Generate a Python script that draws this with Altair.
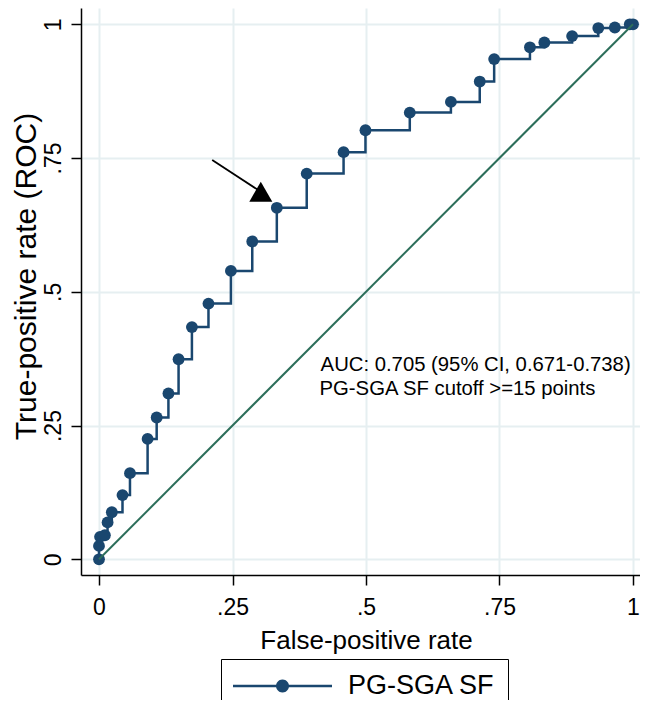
import math
import altair as alt
import pandas as pd

# ---------------- data ----------------
FPR = [0.0, 0.0, 0.002, 0.011, 0.016, 0.024, 0.044, 0.058, 0.091, 0.108,
       0.130, 0.149, 0.174, 0.205, 0.247, 0.287, 0.333, 0.389, 0.458, 0.499,
       0.582, 0.659, 0.713, 0.740, 0.807, 0.834, 0.886, 0.935, 0.966, 0.994, 1.0]
TPR = [0.0, 0.025, 0.042, 0.045, 0.069, 0.088, 0.120, 0.161, 0.225, 0.265,
       0.310, 0.374, 0.434, 0.478, 0.539, 0.594, 0.657, 0.721, 0.761, 0.802,
       0.835, 0.855, 0.893, 0.935, 0.957, 0.966, 0.978, 0.993, 0.994, 1.0, 1.0]
SERIES = "PG-SGA SF"

DIAG_X = [0.0, 1.0]
DIAG_Y = [0.0, 1.0]

ARROW_X = [0.212, 0.303]
ARROW_Y = [0.7465, 0.687]

ANNOT_TEXT = ["AUC: 0.705 (95% CI, 0.671-0.738)", "PG-SGA SF cutoff >=15 points"]
ANNOT_X = [0.415, 0.413]
ANNOT_Y = [0.3525, 0.307]

TICK_VALUES = [0, 0.25, 0.5, 0.75, 1]
TICK_LABELS = ["0", ".25", ".5", ".75", "1"]

X_TITLE = "False-positive rate"
Y_TITLE = "True-positive rate (ROC)"

# ---------------- styling ----------------
NAVY = "#1A476F"
GREEN = "#2C6E5A"
GRID = "#E6EFF1"
FONT = "Liberation Sans"

W, H = 559, 567
XDOM = [-0.03371, 1.01311]
YDOM = [-0.02935, 1.03047]

label_expr = "".join(
    f"datum.value == {v} ? '{l}' : " for v, l in zip(TICK_VALUES, TICK_LABELS)
) + "''"

roc = pd.DataFrame({"x": FPR, "y": TPR, "idx": list(range(len(FPR))),
                    "series": [SERIES] * len(FPR)})
diag = pd.DataFrame({"x": DIAG_X, "y": DIAG_Y})
arrow_line = pd.DataFrame({"x": ARROW_X, "y": ARROW_Y})
arrow_head = pd.DataFrame({"x": ARROW_X[-1:], "y": ARROW_Y[-1:]})
annot = pd.DataFrame({"x": ANNOT_X, "y": ANNOT_Y, "t": ANNOT_TEXT})

x_axis = alt.Axis(
    values=TICK_VALUES, labelExpr=label_expr, title=X_TITLE,
    grid=True, gridColor=GRID, gridWidth=2,
    domainColor="black", domainWidth=1.5,
    tickColor="black", tickWidth=1.5, tickSize=10,
    labelFont=FONT, labelFontSize=23, labelColor="black", labelPadding=11,
    labelBaseline="top", labelAlign="center",
    titleFont=FONT, titleFontSize=26, titleColor="black", titleFontWeight="normal",
    titleX=285, titleY=73, titleBaseline="alphabetic", titleAlign="center",
)
y_axis = alt.Axis(
    values=TICK_VALUES, labelExpr=label_expr, title=Y_TITLE,
    grid=True, gridColor=GRID, gridWidth=2,
    domainColor="black", domainWidth=1.5,
    tickColor="black", tickWidth=1.5, tickSize=10,
    labelFont=FONT, labelFontSize=23, labelColor="black", labelPadding=11,
    labelAngle=270, labelAlign="center", labelBaseline="alphabetic",
    titleFont=FONT, titleFontSize=30, titleColor="black", titleFontWeight="normal",
    titleAngle=270, titleX=-70, titleY=268, titleBaseline="top", titleAlign="center",
)

X = alt.X("x:Q", scale=alt.Scale(domain=XDOM, nice=False, zero=False), axis=x_axis)
Y = alt.Y("y:Q", scale=alt.Scale(domain=YDOM, nice=False, zero=False), axis=y_axis)

# legend symbol: a line with a dot (custom path, unit = 15px)
s = 15.0
half = 1.25 / s
path = f"M-1,{-half:.4f}L5.6,{-half:.4f}L5.6,{half:.4f}L-1,{half:.4f}Z"
cx, r = 2.3, 6.5 / s
pts = [(cx + r * math.cos(2 * math.pi * k / 24), r * math.sin(2 * math.pi * k / 24)) for k in range(24)]
path += "M" + "L".join(f"{px:.4f},{py:.4f}" for px, py in pts) + "Z"

legend = alt.Legend(
    orient="none", legendX=140, legendY=651, title=None,
    symbolType=path, symbolSize=900, symbolStrokeWidth=0, symbolOpacity=1,
    symbolFillColor=NAVY,
    labelFont=FONT, labelFontSize=27, labelColor="black", labelOffset=85, labelLimit=400,
    padding=12, strokeColor="black", fillColor="white", cornerRadius=0,
)

step = alt.Chart(roc).mark_line(interpolate="step-after", color=NAVY, strokeWidth=2.5).encode(
    x=X, y=Y, order="idx:Q")
dots = alt.Chart(roc).mark_point(filled=True, shape="circle", size=140, opacity=1).encode(
    x=X, y=Y,
    color=alt.Color("series:N", scale=alt.Scale(domain=[SERIES], range=[NAVY]), legend=legend))
diag_line = alt.Chart(diag).mark_line(color=GREEN, strokeWidth=2).encode(x=X, y=Y)
arr = alt.Chart(arrow_line).mark_line(color="black", strokeWidth=1.8).encode(x=X, y=Y)
head = alt.Chart(arrow_head).mark_point(filled=True, shape="triangle-up", size=530,
                                        color="black", opacity=1).encode(x=X, y=Y)
txt = alt.Chart(annot).mark_text(align="left", baseline="alphabetic", font=FONT,
                                 fontSize=20.3, color="black").encode(x=X, y=Y, text="t:N")

chart = alt.layer(step, dots, diag_line, arr, head, txt).properties(
    width=W, height=H,
    autosize=alt.AutoSizeParams(type="none"),
    padding={"left": 73, "top": 0, "right": 0, "bottom": 125},
    background="white",
).configure_view(strokeWidth=0)

chart.save("out.html", embed_options={"renderer": "svg", "actions": False})
